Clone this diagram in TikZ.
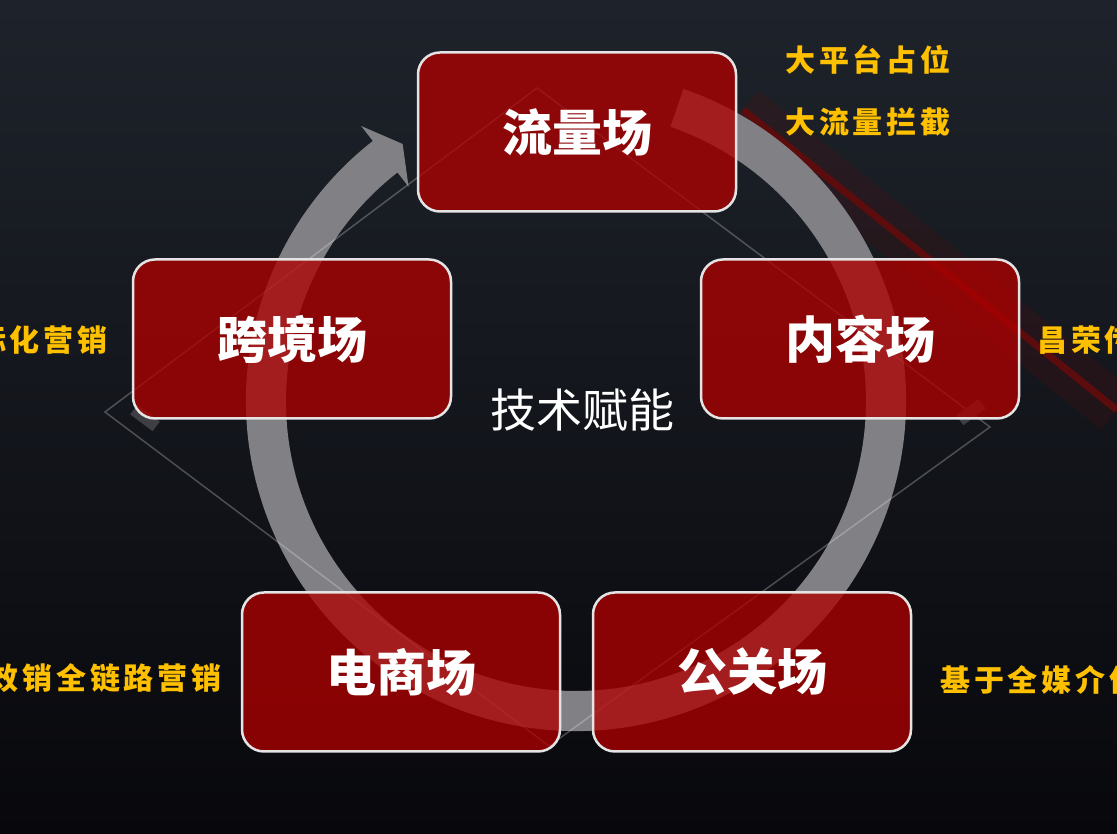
\documentclass[tikz,border=0pt]{standalone}
\usepackage{fontspec}
\setmainfont{Noto Sans CJK SC}
\newfontfamily\tagfont{Noto Sans CJK SC}[LetterSpace=13]
\usetikzlibrary{positioning}

\definecolor{bgtop}{RGB}{30,35,43}
\definecolor{bgbot}{RGB}{8,8,12}
\definecolor{ringgrey}{RGB}{128,128,133}
\definecolor{boxred}{RGB}{176,0,0}
\definecolor{boxedge}{RGB}{228,228,228}
\definecolor{tagyellow}{RGB}{255,192,0}
\definecolor{linered}{RGB}{92,12,12}
\definecolor{cornergrey}{RGB}{62,62,68}

\begin{document}
\begin{tikzpicture}[x=1pt,y=1pt,
	box/.style={draw=boxedge, line width=2.5pt, rounded corners=22pt, fill=boxred, fill opacity=0.77, text opacity=1, text=white, minimum width=318pt, minimum height=159pt, font=\fontsize{50}{60}\selectfont\bfseries},
	tag/.style={text=tagyellow, inner sep=0pt, font=\tagfont\fontsize{30}{36}\selectfont\bfseries}]
		\useasboundingbox (0,0) rectangle (1117,834);
		\clip (0,0) rectangle (1117,834);
		% background
		\shade[top color=bgtop, bottom color=bgbot] (0,0) rectangle (1117,834);
		\draw[linered, opacity=0.2, line width=50pt] (743,724) -- (1117,424);
		\draw[linered, line width=7pt] (743,724) -- (1117,424);
		% cycle ring
		\begin{scope}[shift={(576,433)}]
		\fill[ringgrey] (71:330) arc[start angle=71, end angle=-232, radius=330]
			-- (-232:349) -- (-236:310) -- (-232:272) -- (-232:290)
			arc[start angle=-232, end angle=71, radius=290] -- cycle;
		\end{scope}
		% diamond
		\draw[white, opacity=0.25, line width=1.5pt] (105,422) -- (537,746) -- (990,407) -- (549,88) -- cycle;
		\fill[cornergrey, rotate around={-37:(145,416)}] (131,410) rectangle (159,422);
		\fill[cornergrey, rotate around={37:(971,422)}] (957,416) rectangle (985,428);
		% fields
		\node (liuliang) [box] at (577,702) {流量场};
		\node (kuajing) [box] at (292,495) {跨境场};
		\node (neirong) [box, right of=kuajing, node distance=568pt] {内容场};
		\node (dianshang) [box] at (401,162) {电商场};
		\node (gongguan) [box, right of=dianshang, node distance=351pt] {公关场};
		\node (jishu) at (582,424) [text=white, font=\fontsize{46}{55}\selectfont] {技术赋能};
		% notes
		\node (ping) [tag, anchor=west] at (785,774) {大平台占位};
		\node (lanjie) [tag, anchor=west] at (785,712) {大流量拦截};
		\node (guoji) [tag, anchor=east] at (108,494) {国际化营销};
		\node (changrong) [tag, anchor=west] at (1037,494) {昌荣传播};
		\node (pinxiao) [tag, anchor=east] at (222,156) {品效销全链路营销};
		\node (meijie) [tag, anchor=west] at (940,154) {基于全媒介传播};
\end{tikzpicture}
\end{document}
